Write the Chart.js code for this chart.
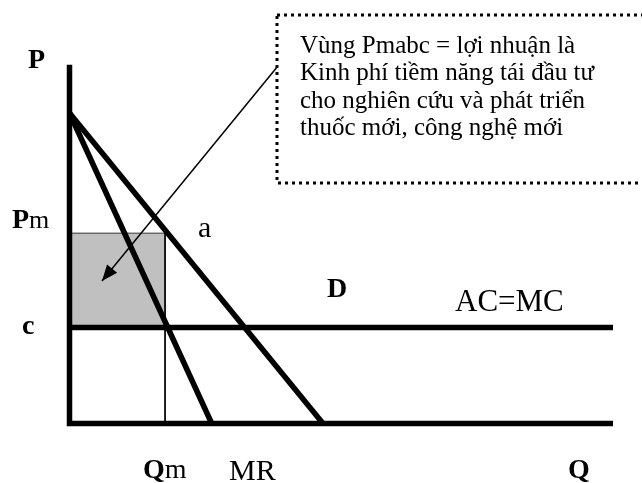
<!DOCTYPE html>
<html>
<head>
<meta charset="utf-8">
<script src="https://cdn.jsdelivr.net/npm/chart.js@4"></script>
<style>
  body { margin: 0; background: #fff; }
  canvas { display: block; }
</style>
</head>
<body>
<canvas id="grafico" width="642" height="483"></canvas>
<script>
// Valores (Q = cantidad, P = precio)
const demandaQ = [0, 10.0];
const demandaP = [10.0, 0];
const ingresoMgQ = [0, 5.61];
const ingresoMgP = [10.0, 0];
const costoC = 3.09;      // AC=MC
const precioPm = 6.13;
const cantidadQm = 3.77;
const ejeFinQ = 21.44;
const ejeTopeP = 11.55;
const flechaQ = [8.19, 1.28];
const flechaP = [11.48, 4.59];

const textoCaja = [
  'Vùng Pmabc = lợi nhuận là',
  'Kinh phí tiềm năng tái đầu tư',
  'cho nghiên cứu và phát triển',
  'thuốc mới, công nghệ mới'
];

// Posicion del origen y escala en pixeles
const ORIGEN_X = 69.5;
const ORIGEN_Y = 423.5;
const PX_Q = 25.35;
const PX_P = 31.05;
const ANCHO = 642, ALTO = 483;

const SERIF = '"Liberation Serif", "DejaVu Serif", serif';

function puntos(qs, ps) {
  return qs.map((q, i) => ({ x: q, y: ps[i] }));
}

function linea(data, ancho, extra) {
  return Object.assign({
    data: data,
    borderColor: '#000',
    borderWidth: ancho,
    borderCapStyle: 'butt',
    borderJoinStyle: 'miter',
    pointRadius: 0,
    showLine: true,
    fill: false,
    tension: 0,
    clip: false,
    order: 0
  }, extra || {});
}

// Caja punteada, punta de flecha y textos
const etiquetas = {
  id: 'etiquetas',
  beforeDatasetsDraw(chart) {
    const ctx = chart.ctx;
    ctx.save();
    ctx.strokeStyle = '#000';
    ctx.lineWidth = 3;
    ctx.setLineDash([3, 4]);
    ctx.strokeRect(277, 15, 380, 168);
    ctx.restore();
  },
  afterDatasetsDraw(chart) {
    const ctx = chart.ctx;
    const x = chart.scales.x, y = chart.scales.y;

    // punta de flecha
    const meta = chart.getDatasetMeta(chart.data.datasets.length - 1);
    const a = meta.data[0], b = meta.data[1];
    const ang = Math.atan2(b.y - a.y, b.x - a.x);
    ctx.save();
    ctx.fillStyle = '#000';
    ctx.translate(b.x, b.y);
    ctx.rotate(ang);
    ctx.beginPath();
    ctx.moveTo(0, 0);
    ctx.lineTo(-16, -6.5);
    ctx.lineTo(-16, 6.5);
    ctx.closePath();
    ctx.fill();
    ctx.restore();

    ctx.save();
    ctx.fillStyle = '#000';
    ctx.textBaseline = 'alphabetic';

    function texto(partes, px, py) {
      let cx = px;
      partes.forEach(([t, bold, size]) => {
        ctx.font = (bold ? 'bold ' : '') + size + 'px ' + SERIF;
        ctx.fillText(t, cx, py);
        cx += ctx.measureText(t).width;
      });
    }

    texto([['P', true, 28]], 28, 68);
    texto([['P', true, 28], ['m', false, 26]], 12, y.getPixelForValue(precioPm) - 5);
    texto([['c', true, 28]], 22, y.getPixelForValue(costoC) + 6);
    texto([['a', false, 30]], 198, y.getPixelForValue(precioPm) + 4);
    texto([['D', true, 28]], 327, 297);
    texto([['AC=MC', false, 31]], 455, 311);
    texto([['Q', true, 28], ['m', false, 28]], x.getPixelForValue(cantidadQm) - 22, 478);
    texto([['MR', false, 30]], 229, 480);
    texto([['Q', true, 28]], 568, 478);

    ctx.font = '25px ' + SERIF;
    textoCaja.forEach((t, i) => ctx.fillText(t, 300, 53 + i * 27.4));
    ctx.restore();
  }
};

new Chart(document.getElementById('grafico'), {
  type: 'scatter',
  data: {
    datasets: [
      // area Pm-a-b-c (se dibuja primero)
      linea(puntos([0, cantidadQm], [precioPm, precioPm]), 1, {
        borderColor: '#333',
        backgroundColor: '#c0c0c0',
        fill: { value: costoC },
        order: 10
      }),
      linea(puntos([cantidadQm, cantidadQm], [precioPm, 0]), 1),
      linea(puntos([0, ejeFinQ], [costoC, costoC]), 5.5),
      linea(puntos(demandaQ, demandaP), 5.5),
      linea(puntos(ingresoMgQ, ingresoMgP), 5.5),
      linea(puntos([0, 0, ejeFinQ], [ejeTopeP, 0, 0]), 5.5),
      linea(puntos(flechaQ, flechaP), 1.5)
    ]
  },
  options: {
    responsive: false,
    animation: false,
    events: [],
    layout: {
      padding: { left: ORIGEN_X, right: 0, top: 0, bottom: ALTO - ORIGEN_Y }
    },
    plugins: {
      legend: { display: false },
      tooltip: { enabled: false }
    },
    scales: {
      x: { type: 'linear', display: false, min: 0, max: (ANCHO - ORIGEN_X) / PX_Q },
      y: { type: 'linear', display: false, min: 0, max: ORIGEN_Y / PX_P }
    }
  },
  plugins: [etiquetas]
});
</script>
</body>
</html>
